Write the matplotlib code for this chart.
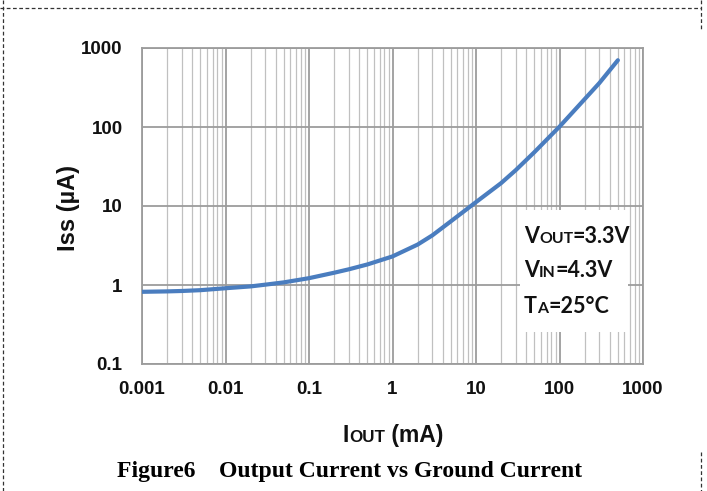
import matplotlib
matplotlib.use("Agg")
import matplotlib.pyplot as plt
from matplotlib.lines import Line2D
from matplotlib.patches import Rectangle
from matplotlib.ticker import FixedLocator, NullFormatter, LogLocator

# Output current (mA) and ground current (uA)
iout_ma = [0.001, 0.002, 0.003, 0.005, 0.01, 0.02, 0.03, 0.05, 0.1, 0.2, 0.3, 0.5,
           1, 2, 3, 5, 10, 20, 30, 50, 100, 200, 300, 500]
iss_ua = [0.82, 0.83, 0.84, 0.86, 0.91, 0.96, 1.01, 1.08, 1.22, 1.43, 1.58, 1.82,
          2.3, 3.25, 4.25, 6.4, 11.2, 19.5, 28.5, 48, 101, 225, 360, 700]

x_ticks = [0.001, 0.01, 0.1, 1, 10, 100, 1000]
x_tick_labels = ["0.001", "0.01", "0.1", "1", "10", "100", "1000"]
y_ticks = [0.1, 1, 10, 100, 1000]
y_tick_labels = ["0.1", "1", "10", "100", "1000"]

W, H = 707, 491
SANS = ["Liberation Sans", "DejaVu Sans"]
BOX_FONT = ["Lato", "DejaVu Sans"]
SERIF = ["Liberation Serif", "DejaVu Serif"]

fig = plt.figure(figsize=(W / 100, H / 100), dpi=100)
ax = fig.add_axes([142 / W, 1 - 364 / H, 501 / W, 316 / H])

ax.set_xscale("log")
ax.set_yscale("log")
ax.set_xlim(0.001, 1000)
ax.set_ylim(0.1, 1000)

# grid: decade lines plus minor verticals
ax.xaxis.set_major_locator(FixedLocator(x_ticks))
ax.xaxis.set_minor_locator(LogLocator(base=10, subs=range(2, 10), numticks=50))
ax.yaxis.set_major_locator(FixedLocator(y_ticks))
ax.yaxis.set_minor_locator(FixedLocator([]))
ax.xaxis.set_minor_formatter(NullFormatter())
ax.set_xticks(x_ticks)
ax.set_xticklabels(x_tick_labels)
ax.set_yticks(y_ticks)
ax.set_yticklabels(y_tick_labels)
ax.grid(True, which="major", axis="both", color="#9c9c9c", linewidth=1.3)
ax.grid(True, which="minor", axis="x", color="#c0c0c0", linewidth=0.9)
ax.tick_params(which="both", length=0)
ax.tick_params(axis="x", pad=12)
ax.tick_params(axis="y", pad=14)
for lbl in ax.get_xticklabels() + ax.get_yticklabels():
    lbl.set_fontfamily(SANS)
    lbl.set_fontweight("bold")
    lbl.set_fontsize(13.5)
    lbl.set_color("#111111")
for sp in ax.spines.values():
    sp.set_color("#9c9c9c")
    sp.set_linewidth(1.3)
ax.set_axisbelow(True)

ax.plot(iout_ma, iss_ua, color="#4a7dbf", linewidth=3.0,
        solid_capstyle="round", solid_joinstyle="round", zorder=3)

# white panel behind the test conditions
ax.add_patch(Rectangle((0.754, 0.101), 0.216, 0.386, transform=ax.transAxes,
                       facecolor="white", edgecolor="none", zorder=2))

renderer = fig.canvas.get_renderer()


def small_caps(x_px, y_px, parts, size, family, weight="bold", ha="left",
               color="#111111"):
    """Draw consecutive text runs on one baseline, each run scaled."""
    items = []
    total = 0.0
    for s, scale in parts:
        t = fig.text(0, 0, s, fontsize=size * scale, family=family,
                     fontweight=weight, color=color, va="baseline", ha="left")
        w = t.get_window_extent(renderer).width
        items.append((t, w))
        total += w
    x = x_px - (total / 2 if ha == "center" else 0)
    for t, w in items:
        t.set_position((x / W, 1 - y_px / H))
        x += w


small_caps(524, 243, [("V", 1), ("OUT", 0.74), ("=3.3V", 1)], 15.5, BOX_FONT)
small_caps(524, 277, [("V", 1), ("IN", 0.74), ("=4.3V", 1)], 15.5, BOX_FONT)
small_caps(524, 313, [("T", 1), ("A", 0.74), ("=25°C", 1)], 15.5, BOX_FONT)

# axis titles
small_caps(393, 442, [("I", 1), ("OUT", 0.74), (" (mA)", 1)], 16.5, SANS,
           ha="center")
fig.text(68 / W, 1 - 208 / H, "Iss (µA)", rotation=90, fontsize=17,
         family=SANS, fontweight="bold",
         color="#111111", ha="center", va="center")

# caption
fig.text(350 / W, 1 - 477 / H, "Figure6    Output Current vs Ground Current",
         fontsize=17, family=SERIF, fontweight="bold", color="black",
         ha="center", va="baseline")

# dashed frame around the figure


def px_line(xs, ys):
    fig.add_artist(Line2D([x / W for x in xs], [1 - y / H for y in ys],
                          color="#333333", linewidth=0.9,
                          linestyle=(0, (3, 2))))


px_line([0, 701], [8, 8])
px_line([2.5, 2.5], [0, 491])
px_line([701, 701], [0, 29])
px_line([701, 701], [452, 491])

fig.savefig("out.png", dpi=100)
